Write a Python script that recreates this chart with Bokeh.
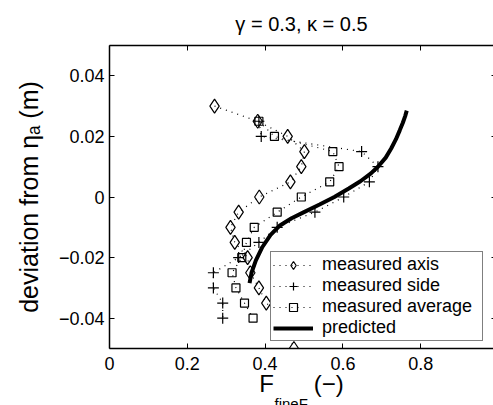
import math
from bokeh.plotting import figure
from bokeh.models import LinearAxis, FixedTicker, Range1d, Legend, LegendItem, Title
from bokeh.embed import file_html
from bokeh.resources import INLINE

# ---- data ----
axis_y = [0.03, 0.025, 0.02, 0.015, 0.01, 0.005, 0.0, -0.005, -0.01, -0.015,
          -0.02, -0.025, -0.03, -0.035, -0.04, -0.045, -0.05]
axis_x = [0.27, 0.381, 0.458, 0.501, 0.493, 0.465, 0.385, 0.332, 0.311, 0.322,
          0.355, 0.362, 0.384, 0.403, 0.447, 0.46, 0.474]
side_y = [0.025, 0.02, 0.015, 0.01, 0.005, 0.0, -0.005, -0.01, -0.015, -0.02,
          -0.025, -0.03, -0.035, -0.04]
side_x = [0.384, 0.39, 0.648, 0.69, 0.668, 0.602, 0.528, 0.431, 0.384, 0.332,
          0.267, 0.267, 0.291, 0.291]
avg_y = [0.025, 0.02, 0.015, 0.01, 0.005, 0.0, -0.005, -0.01, -0.015, -0.02,
         -0.025, -0.03, -0.035, -0.04]
avg_x = [0.384, 0.424, 0.574, 0.59, 0.566, 0.493, 0.431, 0.372, 0.352, 0.34,
         0.315, 0.325, 0.347, 0.369]
pred_x = [0.360, 0.365, 0.376, 0.393, 0.414, 0.437, 0.468, 0.500, 0.540, 0.578,
          0.615, 0.645, 0.672, 0.690, 0.710, 0.724, 0.736, 0.746, 0.754, 0.760, 0.764]
pred_y = [-0.0284, -0.025, -0.021, -0.0165, -0.0125, -0.0095, -0.007, -0.005, -0.0025, 0.0,
          0.0028, 0.0052, 0.0078, 0.0100, 0.0130, 0.0160, 0.0190, 0.0220, 0.0245, 0.0267, 0.0285]

x_ticks = [0, 0.2, 0.4, 0.6, 0.8]
x_tick_labels = ["0", "0.2", "0.4", "0.6", "0.8"]
y_ticks = [-0.04, -0.02, 0, 0.02, 0.04]
y_tick_labels = ["\u22120.04", "\u22120.02", "0", "0.02", "0.04"]

title_text = "\u03b3 = 0.3, \u03ba = 0.5"
ylabel_text = "deviation from \u03b7\u2090 (m)"
xlabel_text = "F" + "\u00a0" * 6 + "(\u2212)"
xlabel_sub = "fineF"
legend_labels = ["measured axis", "measured side", "measured average", "predicted"]

FONT = "Liberation Sans"

p = figure(width=493, height=405, x_range=Range1d(0, 0.987), y_range=Range1d(-0.05, 0.05),
           output_backend="svg", toolbar_location=None,
           min_border_left=108, min_border_right=0, min_border_top=45, min_border_bottom=57)
p.grid.visible = False
p.outline_line_color = None


def style_axis(ax, ticks, labels=None):
    ax.ticker = FixedTicker(ticks=ticks)
    ax.major_tick_in = 5
    ax.major_tick_out = 0
    ax.minor_tick_in = 0
    ax.minor_tick_out = 0
    ax.axis_line_width = 1.5
    ax.axis_line_color = "black"
    ax.major_tick_line_color = "black"
    ax.major_tick_line_width = 1
    ax.major_label_text_font = FONT
    ax.major_label_text_font_size = "18px"
    ax.major_label_text_color = "black"
    if labels is not None:
        ax.major_label_overrides = {t: l for t, l in zip(ticks, labels)}


style_axis(p.xaxis[0], x_ticks, x_tick_labels)
p.xaxis[0].major_label_standoff = 8
p.xaxis[0].axis_label = xlabel_text
p.xaxis[0].axis_label_text_font = FONT
p.xaxis[0].axis_label_text_font_size = "24px"
p.xaxis[0].axis_label_text_font_style = "normal"
p.xaxis[0].axis_label_text_color = "black"
p.xaxis[0].axis_label_standoff = -3
style_axis(p.yaxis[0], y_ticks, y_tick_labels)
p.yaxis[0].major_label_standoff = 5

top_ax = LinearAxis()
style_axis(top_ax, x_ticks)
top_ax.major_label_text_font_size = "0px"
top_ax.major_label_standoff = 0
p.add_layout(top_ax, "above")

right_ax = LinearAxis()
style_axis(right_ax, y_ticks)
right_ax.major_label_text_font_size = "0px"
right_ax.major_label_standoff = 0
right_ax.axis_line_color = None
right_ax.major_tick_in = 2
p.add_layout(right_ax, "right")

p.title.text = title_text
p.title.align = "center"
p.title.vertical_align = "top"
p.title.text_font = FONT
p.title.text_font_size = "20px"
p.title.text_font_style = "normal"
p.title.text_color = "black"
p.title.standoff = 18

p.add_layout(Title(text=ylabel_text, align="center", text_font=FONT, text_font_size="25px",
                   text_font_style="normal", text_color="black", standoff=25), "left")
p.add_layout(Title(text=xlabel_sub, align="left", offset=165, text_font=FONT,
                   text_font_size="15px", text_font_style="normal", text_color="black",
                   standoff=-14), "below")

# ---- series ----
l1 = p.line(axis_x, axis_y, line_color="black", line_width=1.2, line_dash="1 5")
s1 = p.scatter(axis_x, axis_y, marker="diamond", size=14,
               fill_color=None, line_color="black", line_width=1.2)
l2 = p.line(side_x, side_y, line_color="black", line_width=1.2, line_dash="1 5")
s2 = p.scatter(side_x, side_y, marker="cross", size=11, line_color="black", line_width=1.2)
l3 = p.line(avg_x, avg_y, line_color="black", line_width=1.2, line_dash="1 5")
s3 = p.scatter(avg_x, avg_y, marker="square", size=8, fill_color=None, line_color="black", line_width=1.2)
l4 = p.line(pred_x, pred_y, line_color="black", line_width=4)

legend = Legend(items=[
    LegendItem(label=legend_labels[0], renderers=[l1, s1]),
    LegendItem(label=legend_labels[1], renderers=[l2, s2]),
    LegendItem(label=legend_labels[2], renderers=[l3, s3]),
    LegendItem(label=legend_labels[3], renderers=[l4]),
], location=(161, 7))
legend.label_text_font = FONT
legend.label_text_font_size = "18px"
legend.label_text_color = "black"
legend.border_line_color = "black"
legend.border_line_width = 1.5
legend.background_fill_color = "white"
legend.background_fill_alpha = 1
legend.padding = 2
legend.spacing = 0
legend.margin = 0
legend.glyph_width = 40
legend.glyph_height = 20
legend.label_height = 20
legend.label_width = 158
legend.label_standoff = 9
p.add_layout(legend)

open("out.html", "w").write(file_html(p, INLINE))
